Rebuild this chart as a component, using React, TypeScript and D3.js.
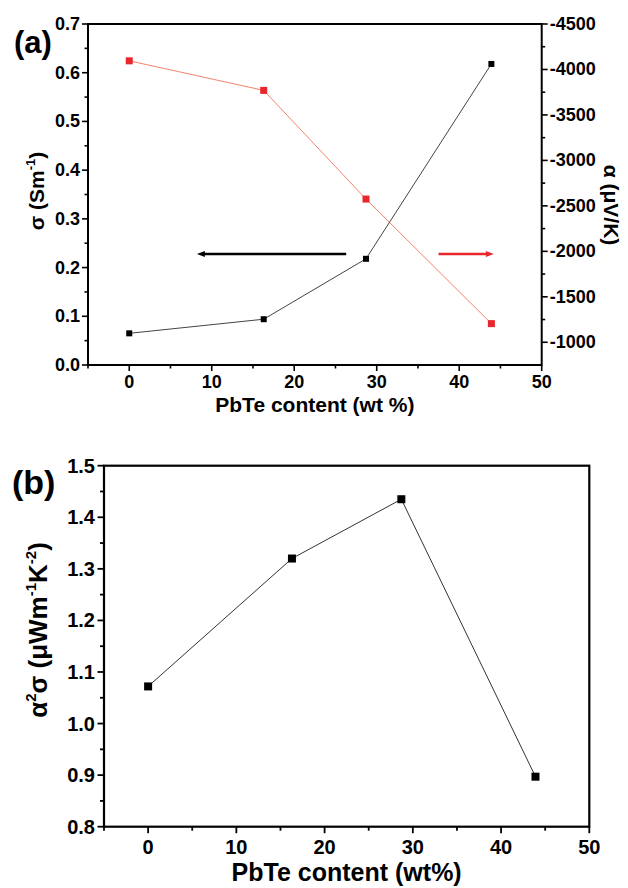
import React from "react";
import * as d3 from "d3";

const pbte = [0, 16.3, 28.7, 43.9];
const sigma = [0.065, 0.094, 0.218, 0.618];
const alpha = [-4095, -3770, -2575, -1205];
const power = [1.072, 1.32, 1.435, 0.897];

const xTicks = [0, 10, 20, 30, 40, 50];
const xMinor = [-5, 5, 15, 25, 35, 45];
const sigmaTicks = [0, 0.1, 0.2, 0.3, 0.4, 0.5, 0.6, 0.7];
const sigmaMinor = [0.05, 0.15, 0.25, 0.35, 0.45, 0.55, 0.65];
const alphaTicks = [-1000, -1500, -2000, -2500, -3000, -3500, -4000, -4500];
const alphaMinor = [-1250, -1750, -2250, -2750, -3250, -3750, -4250];
const powerTicks = [0.8, 0.9, 1.0, 1.1, 1.2, 1.3, 1.4, 1.5];
const powerMinor = [0.85, 0.95, 1.05, 1.15, 1.25, 1.35, 1.45];

// arrows in data coordinates: [x0, x1] at sigma level
const blackArrow = [26.3, 8.2];
const redArrow = [37.5, 44.2];
const arrowLevel = 0.228;

const FONT = "Arial, 'Liberation Sans', Helvetica, sans-serif";

export default function App() {
  const xa = d3.scaleLinear().domain([-5, 50]).range([88, 541.7]);
  const ya = d3.scaleLinear().domain([0, 0.7]).range([365, 24]);
  const ya2 = d3.scaleLinear().domain([-750, -4500]).range([365, 24]);
  const xb = d3.scaleLinear().domain([-5, 50]).range([104, 589.3]);
  const yb = d3.scaleLinear().domain([0.8, 1.5]).range([826.7, 465.7]);

  const lineA = d3.line<number>().x((_, i) => xa(pbte[i])).y((d) => ya(d));
  const lineA2 = d3.line<number>().x((_, i) => xa(pbte[i])).y((d) => ya2(d));
  const lineB = d3.line<number>().x((_, i) => xb(pbte[i])).y((d) => yb(d));

  const fmt1 = d3.format(".1f");

  return (
    <svg width={628} height={888} style={{ position: "absolute", left: 0, top: 0 }} fontFamily={FONT}>
      <rect width={628} height={888} fill="#fff" />
      {/* ===== Panel (a) ===== */}
      <g>
        <rect x={xa(-5)} y={ya(0.7)} width={xa(50) - xa(-5)} height={ya(0) - ya(0.7)} fill="none" stroke="#000" strokeWidth={2} />
        {xTicks.map((t) => (
          <g key={"xa" + t}>
            <line x1={xa(t)} x2={xa(t)} y1={ya(0)} y2={ya(0) + 6} stroke="#000" strokeWidth={1.6} />
            <text x={xa(t)} y={ya(0) + 23} textAnchor="middle" fontSize={18} fontWeight="bold">{t}</text>
          </g>
        ))}
        {xMinor.map((t) => (
          <line key={"xam" + t} x1={xa(t)} x2={xa(t)} y1={ya(0)} y2={ya(0) + 3.5} stroke="#000" strokeWidth={1.6} />
        ))}
        {sigmaTicks.map((t) => (
          <g key={"ya" + t}>
            <line x1={xa(-5) - 6} x2={xa(-5)} y1={ya(t)} y2={ya(t)} stroke="#000" strokeWidth={1.6} />
            <text x={xa(-5) - 8} y={ya(t) + 6} textAnchor="end" fontSize={18} fontWeight="bold">{fmt1(t)}</text>
          </g>
        ))}
        {sigmaMinor.map((t) => (
          <line key={"yam" + t} x1={xa(-5) - 3.5} x2={xa(-5)} y1={ya(t)} y2={ya(t)} stroke="#000" strokeWidth={1.6} />
        ))}
        {alphaTicks.map((t) => (
          <g key={"ya2" + t}>
            <line x1={xa(50)} x2={xa(50) + 6} y1={ya2(t)} y2={ya2(t)} stroke="#000" strokeWidth={1.6} />
            <text x={xa(50) + 8} y={ya2(t) + 6} textAnchor="start" fontSize={18} fontWeight="bold">{t}</text>
          </g>
        ))}
        {alphaMinor.map((t) => (
          <line key={"ya2m" + t} x1={xa(50)} x2={xa(50) + 3.5} y1={ya2(t)} y2={ya2(t)} stroke="#000" strokeWidth={1.6} />
        ))}
        <path d={lineA2(alpha) || ""} fill="none" stroke="#f4836b" strokeWidth={1} />
        <path d={lineA(sigma) || ""} fill="none" stroke="#444" strokeWidth={1} />
        {alpha.map((v, i) => (
          <rect key={"ra" + i} x={xa(pbte[i]) - 3.5} y={ya2(v) - 3.5} width={7} height={7} fill="#e8262b" />
        ))}
        {sigma.map((v, i) => (
          <rect key={"ba" + i} x={xa(pbte[i]) - 3} y={ya(v) - 3} width={6} height={6} fill="#000" />
        ))}
        <line x1={xa(blackArrow[0])} x2={xa(blackArrow[1]) + 6} y1={ya(arrowLevel)} y2={ya(arrowLevel)} stroke="#000" strokeWidth={2.5} />
        <path d={`M${xa(blackArrow[1])},${ya(arrowLevel)} l8,-3 l0,6 z`} fill="#000" />
        <line x1={xa(redArrow[0])} x2={xa(redArrow[1]) - 6} y1={ya(arrowLevel)} y2={ya(arrowLevel)} stroke="#e8262b" strokeWidth={2.5} />
        <path d={`M${xa(redArrow[1])},${ya(arrowLevel)} l-8,-3 l0,6 z`} fill="#e8262b" />
        <text x={14} y={53} fontSize={31} fontWeight="bold">(a)</text>
        <text transform={`translate(44,191) rotate(-90)`} textAnchor="middle" fontSize={21} fontWeight="bold">
          σ (Sm<tspan fontSize={13} dy={-9}>-1</tspan><tspan dy={9}>)</tspan>
        </text>
        <text transform={`translate(604,205) rotate(90)`} textAnchor="middle" fontSize={21} fontWeight="bold">
          α (μV/K)
        </text>
        <text x={(xa(-5) + xa(50)) / 2} y={412} textAnchor="middle" fontSize={21} fontWeight="bold">PbTe content (wt %)</text>
      </g>

      {/* ===== Panel (b) ===== */}
      <g>
        <rect x={xb(-5)} y={yb(1.5)} width={xb(50) - xb(-5)} height={yb(0.8) - yb(1.5)} fill="none" stroke="#000" strokeWidth={2.2} />
        {xTicks.map((t) => (
          <g key={"xb" + t}>
            <line x1={xb(t)} x2={xb(t)} y1={yb(0.8)} y2={yb(0.8) + 6.5} stroke="#000" strokeWidth={1.8} />
            <text x={xb(t)} y={yb(0.8) + 27} textAnchor="middle" fontSize={20} fontWeight="bold">{t}</text>
          </g>
        ))}
        {xMinor.map((t) => (
          <line key={"xbm" + t} x1={xb(t)} x2={xb(t)} y1={yb(0.8)} y2={yb(0.8) + 4} stroke="#000" strokeWidth={1.8} />
        ))}
        {powerTicks.map((t) => (
          <g key={"yb" + t}>
            <line x1={xb(-5) - 6.5} x2={xb(-5)} y1={yb(t)} y2={yb(t)} stroke="#000" strokeWidth={1.8} />
            <text x={xb(-5) - 9} y={yb(t) + 7} textAnchor="end" fontSize={20} fontWeight="bold">{fmt1(t)}</text>
          </g>
        ))}
        {powerMinor.map((t) => (
          <line key={"ybm" + t} x1={xb(-5) - 4} x2={xb(-5)} y1={yb(t)} y2={yb(t)} stroke="#000" strokeWidth={1.8} />
        ))}
        <path d={lineB(power) || ""} fill="none" stroke="#333" strokeWidth={1} />
        {power.map((v, i) => (
          <rect key={"pb" + i} x={xb(pbte[i]) - 4} y={yb(v) - 4} width={8} height={8} fill="#000" />
        ))}
        <text x={12} y={494} fontSize={34} fontWeight="bold">(b)</text>
        <text transform={`translate(47,630) rotate(-90)`} textAnchor="middle" fontSize={26} fontWeight="bold">
          α<tspan fontSize={15} dy={-11}>2</tspan><tspan dy={11}>σ (μWm</tspan><tspan fontSize={15} dy={-11}>-1</tspan><tspan dy={11}>K</tspan><tspan fontSize={15} dy={-11}>-2</tspan><tspan dy={11}>)</tspan>
        </text>
        <text x={(xb(-5) + xb(50)) / 2} y={881} textAnchor="middle" fontSize={25} fontWeight="bold">PbTe content (wt%)</text>
      </g>
    </svg>
  );
}
